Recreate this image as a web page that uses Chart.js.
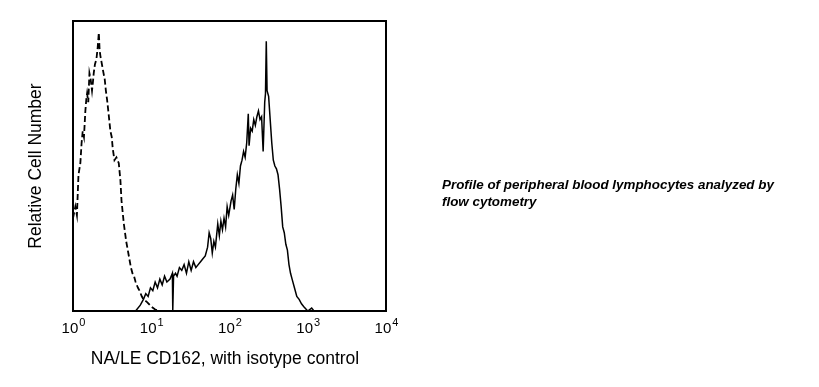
<!DOCTYPE html>
<html>
<head>
<meta charset="utf-8">
<script src="https://cdn.jsdelivr.net/npm/chart.js@4/dist/chart.umd.min.js"></script>
<style>
    html, body { margin: 0; padding: 0; background: #fff; }
    #wrap { width: 819px; height: 387px; position: relative; }
</style>
</head>
<body>
<div id="wrap"><canvas id="flowChart" width="819" height="387"></canvas></div>
<script>
// Axis: fluorescence on a log scale, positions kept in decades (0 = 10^0 ... 4 = 10^4)
const tickDecades = [0, 1, 2, 3, 4];
const xTitle = 'NA/LE CD162, with isotype control';
const yTitle = 'Relative Cell Number';
const noteLines = ['Profile of peripheral blood lymphocytes analyzed by', 'flow cytometry'];

// Isotype control (dashed histogram)
const isoDecade = [0.00, 0.03, 0.05, 0.07, 0.094, 0.11, 0.124, 0.14, 0.158, 0.17, 0.18, 0.195,
    0.21, 0.225, 0.243, 0.255, 0.265, 0.28, 0.30, 0.316, 0.33, 0.34, 0.35, 0.37, 0.39, 0.405,
    0.42, 0.435, 0.455, 0.478, 0.495, 0.508, 0.53, 0.555, 0.585, 0.606, 0.62, 0.635, 0.65,
    0.665, 0.68, 0.70, 0.72, 0.74, 0.76, 0.78, 0.80, 0.83, 0.85, 0.88, 0.90, 0.95, 1.00, 1.05, 1.10];
const isoCount = [32, 36, 33, 47, 51, 58, 62, 60, 69, 73, 75, 72,
    82, 80, 76, 79, 82, 85, 87, 91, 96, 90, 88, 85, 82, 80,
    76, 73, 68, 62, 60, 56, 52, 53, 51, 45, 38, 34, 30,
    27, 24, 21, 18, 15, 13, 12, 10, 8, 7, 5, 4, 3, 1.5, 0.5, 0];

// NA/LE CD162 stained (solid histogram)
const cdDecade = [0.80, 0.86, 0.90, 0.93, 0.96, 0.99, 1.02, 1.05, 1.08, 1.11, 1.14, 1.17, 1.20,
    1.24, 1.27, 1.275, 1.285, 1.31, 1.33, 1.36, 1.39, 1.42, 1.45, 1.48, 1.51, 1.54, 1.57, 1.60,
    1.63, 1.66, 1.69, 1.72, 1.74, 1.76, 1.78, 1.80, 1.82, 1.85, 1.87, 1.89, 1.91, 1.93, 1.95,
    1.97, 1.99, 2.02, 2.04, 2.06, 2.08, 2.10, 2.12, 2.14, 2.16, 2.18, 2.20, 2.22, 2.24, 2.25,
    2.27, 2.29, 2.31, 2.33, 2.35, 2.37, 2.39, 2.41, 2.43, 2.45, 2.46, 2.47, 2.48, 2.50, 2.52,
    2.54, 2.56, 2.58, 2.60, 2.62, 2.64, 2.66, 2.68, 2.70, 2.72, 2.74, 2.76, 2.78, 2.80, 2.83,
    2.86, 2.89, 2.92, 2.95, 3.00, 3.05, 3.08];
const cdCount = [0, 2, 4, 6, 5, 8, 7, 10, 8, 11, 9, 12, 10,
    11, 13, 0, 12, 13, 12, 15, 14, 16, 13, 17, 14, 17, 15, 16,
    17, 18, 19, 22, 27, 25, 20, 24, 22, 30, 26, 31, 28, 32, 29,
    36, 33, 38, 40, 35, 42, 47, 44, 50, 52, 55, 53, 58, 68, 57,
    63, 62, 66, 64, 67, 69, 66, 67, 55, 72, 75, 93, 76, 74, 66,
    58, 52, 50, 49, 47, 42, 36, 29, 27, 23, 21, 16, 13, 11, 8,
    5, 4, 2.5, 1.5, 0, 1, 0];

const toPoints = (decades, counts) => decades.map((d, i) => ({ x: Math.pow(10, d), y: counts[i] }));

const FONT = '"Liberation Sans", Arial, sans-serif';

// Frame, tick labels with superscripts, axis titles and side note
const decorPlugin = {
    id: 'decor',
    afterDraw(chart) {
        const { ctx, chartArea: a, scales } = chart;
        ctx.save();
        ctx.strokeStyle = '#000';
        ctx.lineWidth = 2;
        ctx.strokeRect(a.left, a.top, a.right - a.left, a.bottom - a.top);

        ctx.fillStyle = '#000';
        ctx.textBaseline = 'alphabetic';
        tickDecades.forEach(d => {
            const px = scales.x.getPixelForValue(Math.pow(10, d));
            ctx.font = '15px ' + FONT;
            const w10 = ctx.measureText('10').width;
            ctx.font = '11px ' + FONT;
            const wExp = ctx.measureText(String(d)).width;
            const start = px - (w10 + wExp) / 2;
            ctx.font = '15px ' + FONT;
            ctx.textAlign = 'left';
            ctx.fillText('10', start, a.bottom + 22);
            ctx.font = '11px ' + FONT;
            ctx.fillText(String(d), start + w10 + 1, a.bottom + 15);
        });

        ctx.font = '17.5px ' + FONT;
        ctx.textAlign = 'center';
        ctx.fillText(xTitle, 225, a.bottom + 53);

        ctx.save();
        ctx.translate(41, 166);
        ctx.rotate(-Math.PI / 2);
        ctx.fillText(yTitle, 0, 0);
        ctx.restore();

        ctx.font = 'italic bold 13.4px ' + FONT;
        ctx.textAlign = 'left';
        noteLines.forEach((line, i) => ctx.fillText(line, 442, 189 + i * 17));
        ctx.restore();
    }
};

new Chart(document.getElementById('flowChart'), {
    type: 'line',
    data: {
        datasets: [
            {
                label: 'Isotype control',
                data: toPoints(isoDecade, isoCount),
                borderColor: '#000',
                borderWidth: 1.8,
                borderDash: [6, 3],
                pointRadius: 0,
                tension: 0,
                fill: false
            },
            {
                label: 'NA/LE CD162',
                data: toPoints(cdDecade, cdCount),
                borderColor: '#000',
                borderWidth: 1.5,
                pointRadius: 0,
                tension: 0,
                fill: false
            }
        ]
    },
    options: {
        responsive: false,
        animation: false,
        layout: { padding: { left: 73, right: 433, top: 21, bottom: 76 } },
        plugins: { legend: { display: false }, tooltip: { enabled: false } },
        scales: {
            x: { type: 'logarithmic', min: 1, max: 10000, display: false },
            y: { type: 'linear', min: 0, max: 100, display: false }
        }
    },
    plugins: [decorPlugin]
});
</script>
</body>
</html>
